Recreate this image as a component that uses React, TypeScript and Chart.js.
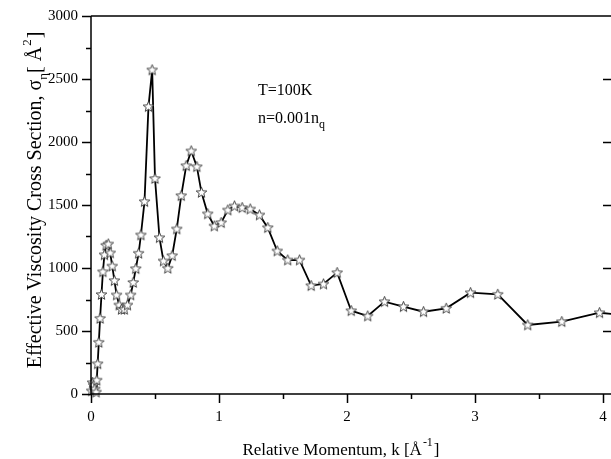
import React, { useEffect, useRef } from "react";
import { Chart, registerables } from "chart.js";

Chart.register(...registerables);

// Relative momentum k [1/Å]
const K = [
  0.005, 0.012, 0.02, 0.03, 0.04, 0.045, 0.052, 0.061, 0.071, 0.082,
  0.093, 0.105, 0.118, 0.135, 0.15, 0.166, 0.183, 0.2, 0.22, 0.238,
  0.26, 0.285, 0.31, 0.33, 0.35, 0.372, 0.39, 0.418, 0.449, 0.478,
  0.5, 0.535, 0.566, 0.6, 0.634, 0.67, 0.705, 0.744, 0.783, 0.827,
  0.863, 0.912, 0.963, 1.017, 1.069, 1.121, 1.181, 1.244, 1.316, 1.381,
  1.455, 1.537, 1.629, 1.72, 1.816, 1.923, 2.033, 2.162, 2.293, 2.441,
  2.598, 2.775, 2.965, 3.178, 3.412, 3.678, 3.973, 4.3,
];
// Effective viscosity cross section [Å^2]
const SIGMA = [
  25, 90, 70, 40, 15, 110, 240, 410, 600, 790,
  970, 1105, 1180, 1190, 1120, 1015, 900, 786, 706, 672,
  672, 706, 786, 885, 995, 1117, 1262, 1527, 2281, 2572,
  1710, 1241, 1056, 998, 1098, 1310, 1574, 1812, 1929, 1804,
  1600, 1430, 1333, 1360, 1460, 1492, 1479, 1468, 1421, 1320,
  1135, 1063, 1063, 860, 873, 963, 661, 619, 733, 693,
  653, 680, 804, 791, 548, 574, 645, 610,
];

const Y_TICK_VALUES = [0, 250, 500, 750, 1000, 1250, 1500, 1750, 2000, 2250, 2500, 2750, 3000];
const X_TICK_VALUES = [0, 0.5, 1, 1.5, 2, 2.5, 3, 3.5, 4];

const X_TITLE_MAIN = "Relative Momentum, k [Å";
const X_TITLE_SUP = "-1";
const X_TITLE_END = "]";
const Y_TITLE_MAIN = "Effective Viscosity Cross Section, σ";
const Y_TITLE_SUB = "η";
const Y_TITLE_MID = "[ Å";
const Y_TITLE_SUP = "2";
const Y_TITLE_END = "]";
const NOTE_1 = "T=100K";
const NOTE_2 = "n=0.001n";
const NOTE_2_SUB = "q";

const FONT = "'Liberation Serif', 'Times New Roman', serif";

function makeStar(): HTMLCanvasElement {
  const c = document.createElement("canvas");
  c.width = 13;
  c.height = 13;
  const g = c.getContext("2d")!;
  g.beginPath();
  for (let i = 0; i < 10; i++) {
    const r = i % 2 === 0 ? 5.6 : 2.4;
    const a = -Math.PI / 2 + (i * Math.PI) / 5;
    const px = 6.5 + r * Math.cos(a);
    const py = 6.8 + r * Math.sin(a);
    if (i === 0) g.moveTo(px, py);
    else g.lineTo(px, py);
  }
  g.closePath();
  g.fillStyle = "#ffffff";
  g.fill();
  g.strokeStyle = "#333333";
  g.lineWidth = 0.9;
  g.stroke();
  return c;
}

const framePlugin = {
  id: "frame",
  afterDraw(chart: any) {
    const { ctx, chartArea: a, scales } = chart;
    const x = scales.x;
    const y = scales.y;
    ctx.save();
    ctx.strokeStyle = "#000";
    ctx.lineWidth = 1.5;
    ctx.beginPath();
    ctx.moveTo(a.left, a.top);
    ctx.lineTo(a.left, a.bottom);
    ctx.lineTo(a.right, a.bottom);
    ctx.moveTo(a.left, a.top);
    ctx.lineTo(a.right, a.top);
    for (const v of Y_TICK_VALUES) {
      const py = Math.round(y.getPixelForValue(v)) + 0.5;
      const major = v % 500 === 0;
      ctx.moveTo(a.left - (major ? 9 : 5), py);
      ctx.lineTo(a.left, py);
      if (major && v !== 0 && v !== 3000) {
        ctx.moveTo(a.right - 8, py);
        ctx.lineTo(a.right, py);
      }
    }
    for (const v of X_TICK_VALUES) {
      const px = Math.round(x.getPixelForValue(v)) + 0.5;
      const major = v % 1 === 0;
      ctx.moveTo(px, a.bottom);
      ctx.lineTo(px, a.bottom + (major ? 9 : 5));
    }
    ctx.stroke();

    ctx.fillStyle = "#000";
    ctx.textBaseline = "alphabetic";
    ctx.textAlign = "left";

    // x title
    const big = `17px ${FONT}`;
    const small = `12px ${FONT}`;
    ctx.font = big;
    const w1 = ctx.measureText(X_TITLE_MAIN).width;
    const w3 = ctx.measureText(X_TITLE_END).width;
    ctx.font = small;
    const w2 = ctx.measureText(X_TITLE_SUP).width;
    let sx = 341 - (w1 + w2 + w3 + 2) / 2;
    const by = 455;
    ctx.font = big;
    ctx.fillText(X_TITLE_MAIN, sx, by);
    sx += w1 + 1;
    ctx.font = small;
    ctx.fillText(X_TITLE_SUP, sx, by - 9);
    sx += w2 + 1;
    ctx.font = big;
    ctx.fillText(X_TITLE_END, sx, by);

    // y title (rotated)
    const ybig = `20px ${FONT}`;
    const ysmall = `13px ${FONT}`;
    ctx.save();
    ctx.translate(41, 200);
    ctx.rotate(-Math.PI / 2);
    ctx.font = ybig;
    const m1 = ctx.measureText(Y_TITLE_MAIN).width;
    const m3 = ctx.measureText(Y_TITLE_MID).width;
    const m5 = ctx.measureText(Y_TITLE_END).width;
    ctx.font = ysmall;
    const m2 = ctx.measureText(Y_TITLE_SUB).width;
    const m4 = ctx.measureText(Y_TITLE_SUP).width;
    let tx = -(m1 + m2 + m3 + m4 + m5 + 2) / 2;
    ctx.font = ybig;
    ctx.fillText(Y_TITLE_MAIN, tx, 0);
    tx += m1;
    ctx.font = ysmall;
    ctx.fillText(Y_TITLE_SUB, tx, 6);
    tx += m2;
    ctx.font = ybig;
    ctx.fillText(Y_TITLE_MID, tx, 0);
    tx += m3 + 1;
    ctx.font = ysmall;
    ctx.fillText(Y_TITLE_SUP, tx, -10);
    tx += m4 + 1;
    ctx.font = ybig;
    ctx.fillText(Y_TITLE_END, tx, 0);
    ctx.restore();

    // annotations
    const nf = `16px ${FONT}`;
    ctx.font = nf;
    ctx.fillText(NOTE_1, 258, 95);
    ctx.fillText(NOTE_2, 258, 123);
    const nw = ctx.measureText(NOTE_2).width;
    ctx.font = `12px ${FONT}`;
    ctx.fillText(NOTE_2_SUB, 258 + nw, 128);
    ctx.restore();
  },
};

export default function App() {
  const ref = useRef<HTMLCanvasElement>(null);
  useEffect(() => {
    if (!ref.current) return;
    const star = makeStar();
    const chart = new Chart(ref.current, {
      type: "line",
      data: {
        datasets: [
          {
            data: K.map((k, i) => ({ x: k, y: SIGMA[i] })),
            borderColor: "#000",
            borderWidth: 1.8,
            pointStyle: star as any,
            pointRadius: 5,
            tension: 0,
            clip: false as any,
          },
        ],
      },
      options: {
        animation: false,
        responsive: false,
        layout: { autoPadding: false, padding: { top: 16, left: 0, right: 0, bottom: 0 } },
        plugins: { legend: { display: false }, tooltip: { enabled: false } },
        scales: {
          x: {
            type: "linear",
            min: 0,
            max: 4.0625,
            grid: { display: false },
            border: { display: false },
            ticks: {
              stepSize: 1,
              includeBounds: false,
              maxRotation: 0,
              padding: 6,
              color: "#000",
              font: { family: FONT, size: 15 },
              callback: (v: any) => String(v),
            },
            afterFit: (s: any) => {
              s.height = 65;
              s.paddingLeft = 0;
              s.paddingRight = 0;
            },
          },
          y: {
            type: "linear",
            min: 0,
            max: 3000,
            grid: { display: false },
            border: { display: false },
            ticks: {
              stepSize: 500,
              padding: 5,
              color: "#000",
              font: { family: FONT, size: 15 },
              callback: (v: any) => String(v),
            },
            afterFit: (s: any) => {
              s.width = 91;
              s.paddingTop = 0;
              s.paddingBottom = 0;
            },
          },
        },
      },
      plugins: [framePlugin],
    });
    return () => chart.destroy();
  }, []);
  return (
    <div style={{ position: "absolute", left: 0, top: 0, width: 611, height: 459, background: "#fff" }}>
      <canvas ref={ref} width={611} height={459} style={{ width: 611, height: 459, display: "block" }} />
    </div>
  );
}
